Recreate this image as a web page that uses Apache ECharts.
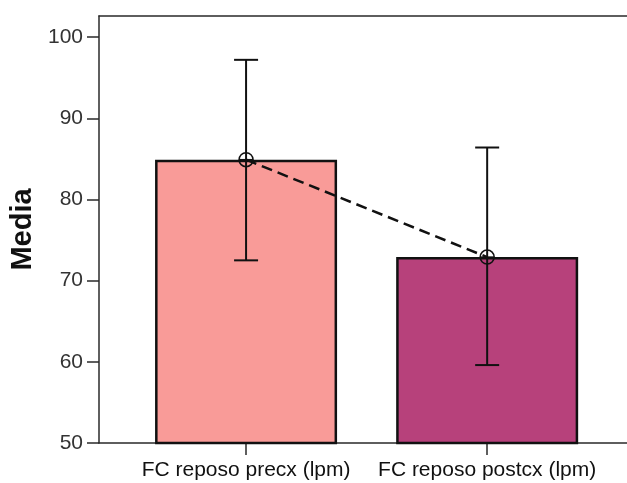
<!DOCTYPE html>
<html>
<head>
<meta charset="utf-8">
<script src="https://cdn.jsdelivr.net/npm/echarts@6/dist/echarts.min.js"></script>
<style>
  html, body { margin: 0; padding: 0; background: #fff; }
  #chart { width: 627px; height: 483px; }
</style>
</head>
<body>
<div id="chart"></div>
<script>
// datos
const categories = ["FC reposo precx (lpm)", "FC reposo postcx (lpm)"];
const means = [84.9, 72.9];
const lower = [72.5, 59.6];
const upper = [97.2, 86.4];
const barColors = ["#F99B98", "#B7417B"];
const yTicks = [50, 60, 70, 80, 90, 100];

const chart = echarts.init(document.getElementById("chart"));

const FONT = "Liberation Sans, Arial, sans-serif";
const axisColor = "#2a2a2a";

const barData = means.map((m, i) => ({
  value: [i, m],
  itemStyle: { color: barColors[i] },
}));

const option = {
  animation: false,
  grid: { left: 96, right: 0, top: 16, bottom: 40 },
  xAxis: [
    {
      type: "value",
      min: -0.61,
      max: 1.58,
      splitLine: { show: false },
      axisLine: { onZero: false, lineStyle: { color: axisColor, width: 1.5 } },
      axisTick: {
        customValues: [0, 1],
        length: 12,
        lineStyle: { color: axisColor, width: 1.5 },
      },
      axisLabel: {
        customValues: [0, 1],
        margin: 17,
        color: "#111",
        fontFamily: FONT,
        fontSize: 21,
        formatter: (v) => categories[Math.round(v)],
      },
    },
    {
      // línea superior del marco
      type: "value",
      position: "top",
      min: -0.61,
      max: 1.58,
      splitLine: { show: false },
      axisLine: { onZero: false, lineStyle: { color: axisColor, width: 1.5 } },
      axisTick: { show: false },
      axisLabel: { show: false },
    },
  ],
  yAxis: {
    type: "value",
    min: 50,
    max: 102.6,
    interval: 10,
    name: "Media",
    nameLocation: "middle",
    nameGap: 62,
    nameTextStyle: {
      fontFamily: FONT,
      fontWeight: "bold",
      fontSize: 29,
      color: "#111",
    },
    splitLine: { show: false },
    axisLine: { show: true, onZero: false, lineStyle: { color: axisColor, width: 1.5 } },
    axisTick: {
      show: true,
      customValues: yTicks,
      length: 12,
      lineStyle: { color: axisColor, width: 1.5 },
    },
    axisLabel: {
      customValues: yTicks,
      margin: 16,
      color: "#333",
      fontFamily: FONT,
      fontSize: 21,
    },
  },
  series: [
    {
      type: "bar",
      data: barData,
      barWidth: 182,
      itemStyle: { borderColor: "#111", borderWidth: 2.5 },
      z: 2,
    },
    {
      type: "line",
      data: means.map((m, i) => [i, m]),
      symbol: "none",
      lineStyle: { color: "#111", width: 2.5, type: [11, 6] },
      z: 3,
    },
    {
      type: "custom",
      data: means.map((m, i) => [i, lower[i], upper[i], m]),
      z: 4,
      renderItem: (params, api) => {
        const x = api.value(0);
        const lo = api.coord([x, api.value(1)]);
        const hi = api.coord([x, api.value(2)]);
        const mid = api.coord([x, api.value(3)]);
        const cap = 12;
        const r = 7;
        const stroke = { stroke: "#111", lineWidth: 2 };
        return {
          type: "group",
          children: [
            { type: "line", shape: { x1: lo[0], y1: lo[1], x2: hi[0], y2: hi[1] }, style: stroke },
            { type: "line", shape: { x1: lo[0] - cap, y1: lo[1], x2: lo[0] + cap, y2: lo[1] }, style: stroke },
            { type: "line", shape: { x1: hi[0] - cap, y1: hi[1], x2: hi[0] + cap, y2: hi[1] }, style: stroke },
            { type: "circle", shape: { cx: mid[0], cy: mid[1], r: r }, style: { fill: "none", stroke: "#111", lineWidth: 1.5 } },
            { type: "line", shape: { x1: mid[0] - r, y1: mid[1], x2: mid[0] + r, y2: mid[1] }, style: { stroke: "#111", lineWidth: 1.5 } },
          ],
        };
      },
    },
  ],
};

chart.setOption(option);
</script>
</body>
</html>
